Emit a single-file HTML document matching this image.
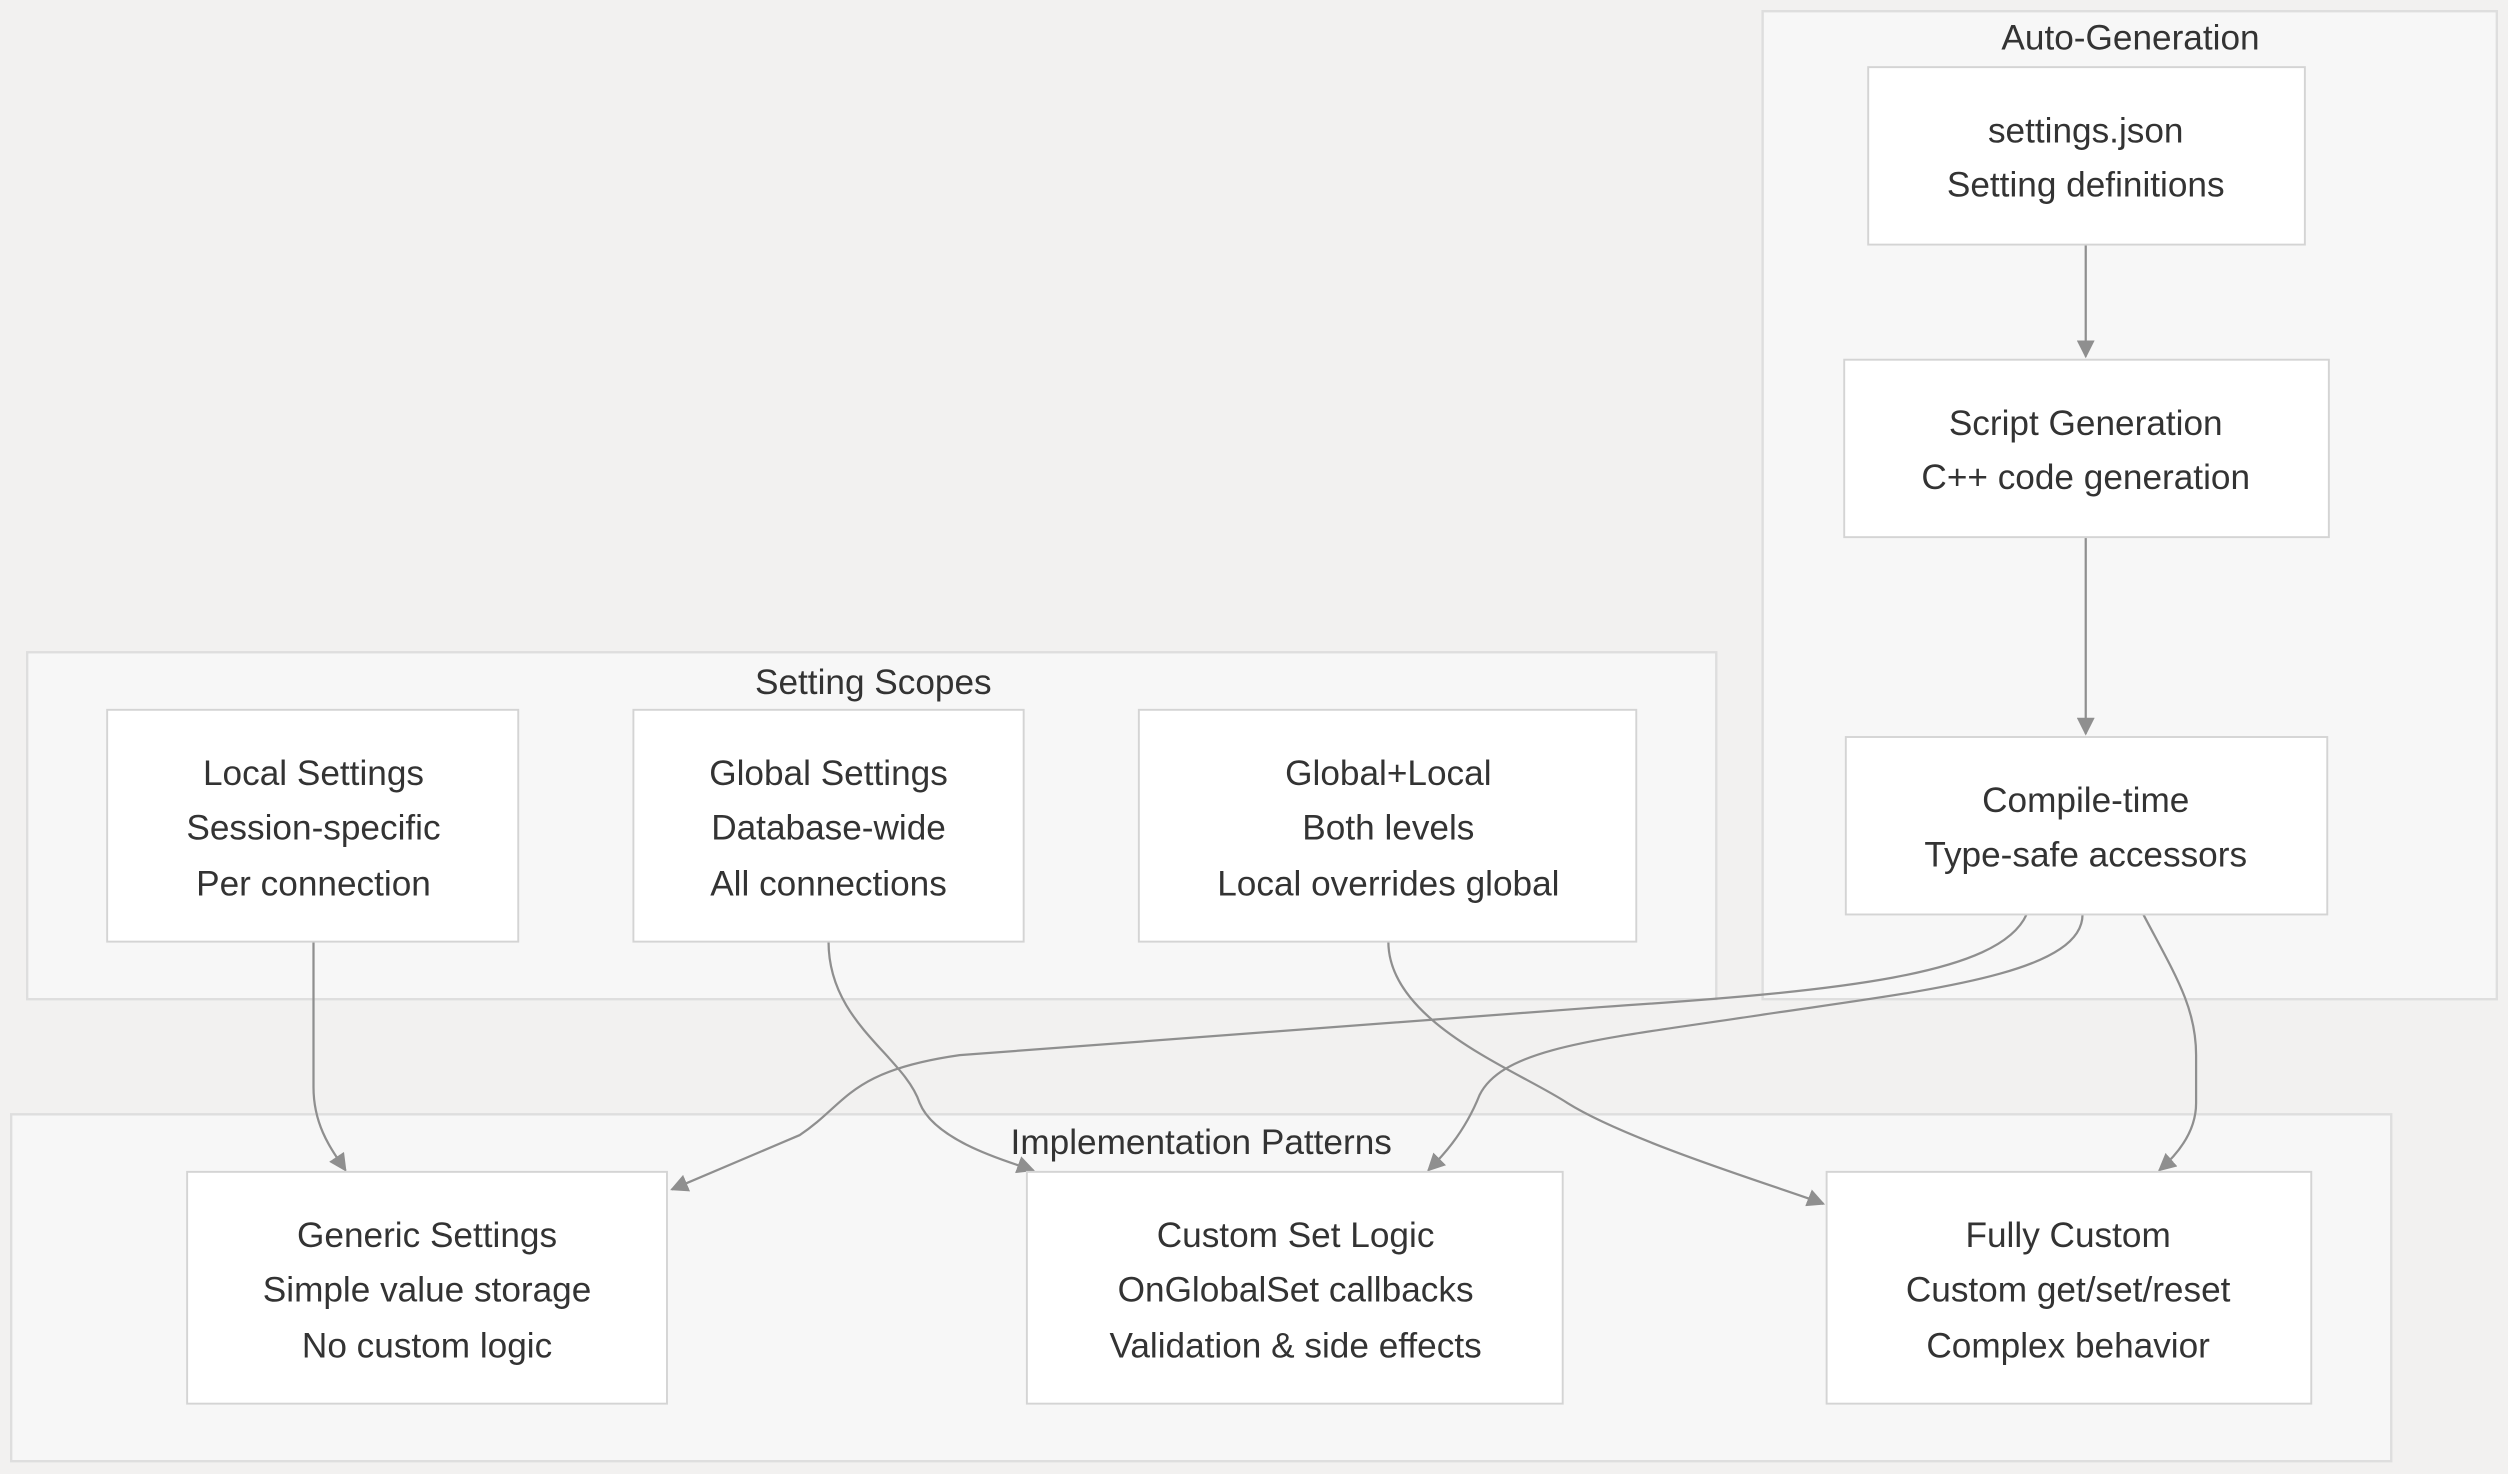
<!DOCTYPE html>
<html><head><meta charset="utf-8"><style>
html,body{margin:0;padding:0;background:#f2f1f0;}
svg{display:block;}
text{font-family:"Liberation Sans","DejaVu Sans",sans-serif;font-size:22px;fill:#333;text-anchor:middle;}
.c{fill:#f7f7f7;stroke:#dedede;stroke-width:1.5;}
.n{fill:#fff;stroke:#d4d4d4;stroke-width:1.2;}
.e{fill:none;stroke:#8f8f8f;stroke-width:1.4;}
</style></head><body>
<svg width="2508" height="1474" viewBox="0 0 1568 922" preserveAspectRatio="none">
<defs><marker id="a" viewBox="0 0 10 10" refX="9" refY="5" markerWidth="8" markerHeight="8" orient="auto-start-reverse"><path d="M0,0 L10,5 L0,10 z" fill="#8f8f8f"/></marker></defs>
<rect x="0" y="0" width="1568" height="922" fill="#f2f1f0"/>
<rect class="c" x="1102" y="7" width="459" height="618"/>
<text x="1332" y="31">Auto-Generation</text>
<rect class="c" x="17" y="408" width="1056" height="217"/>
<text x="546" y="434">Setting Scopes</text>
<rect class="c" x="7" y="697" width="1488" height="217"/>
<text x="751" y="722">Implementation Patterns</text>

<path class="e" d="M1304,153 L1304,223" marker-end="url(#a)"/>
<path class="e" d="M1304,336 L1304,459" marker-end="url(#a)"/>
<path class="e" d="M196,589 L196,680 C196,705 208,720 216,732" marker-end="url(#a)"/>
<path class="e" d="M518,589 C518,640 565,660 575,690 C585,715 635,728 646,732" marker-end="url(#a)"/>
<path class="e" d="M868,589 C868,640 950,670 980,690 C1020,715 1120,745 1140,753" marker-end="url(#a)"/>
<path class="e" d="M1267,572 C1250,610 1150,620 1000,630 L600,660 C530,670 530,690 500,710 L420,744" marker-end="url(#a)"/>
<path class="e" d="M1302,572 C1302,610 1200,620 1100,635 C1000,650 940,655 925,685 C915,710 900,725 893,732" marker-end="url(#a)"/>
<path class="e" d="M1340,572 C1360,610 1373,630 1373,660 L1373,690 C1373,710 1358,725 1350,732" marker-end="url(#a)"/>

<rect class="n" x="1168" y="42" width="273" height="111"/>
<text x="1304" y="89">settings.json</text><text x="1304" y="123">Setting definitions</text>
<rect class="n" x="1153" y="225" width="303" height="111"/>
<text x="1304" y="272">Script Generation</text><text x="1304" y="306">C++ code generation</text>
<rect class="n" x="1154" y="461" width="301" height="111"/>
<text x="1304" y="508">Compile-time</text><text x="1304" y="542">Type-safe accessors</text>

<rect class="n" x="67" y="444" width="257" height="145"/>
<text x="196" y="491">Local Settings</text><text x="196" y="525">Session-specific</text><text x="196" y="560">Per connection</text>
<rect class="n" x="396" y="444" width="244" height="145"/>
<text x="518" y="491">Global Settings</text><text x="518" y="525">Database-wide</text><text x="518" y="560">All connections</text>
<rect class="n" x="712" y="444" width="311" height="145"/>
<text x="868" y="491">Global+Local</text><text x="868" y="525">Both levels</text><text x="868" y="560">Local overrides global</text>

<rect class="n" x="117" y="733" width="300" height="145"/>
<text x="267" y="780">Generic Settings</text><text x="267" y="814">Simple value storage</text><text x="267" y="849">No custom logic</text>
<rect class="n" x="642" y="733" width="335" height="145"/>
<text x="810" y="780">Custom Set Logic</text><text x="810" y="814">OnGlobalSet callbacks</text><text x="810" y="849">Validation &amp; side effects</text>
<rect class="n" x="1142" y="733" width="303" height="145"/>
<text x="1293" y="780">Fully Custom</text><text x="1293" y="814">Custom get/set/reset</text><text x="1293" y="849">Complex behavior</text>
</svg>
</body></html>
